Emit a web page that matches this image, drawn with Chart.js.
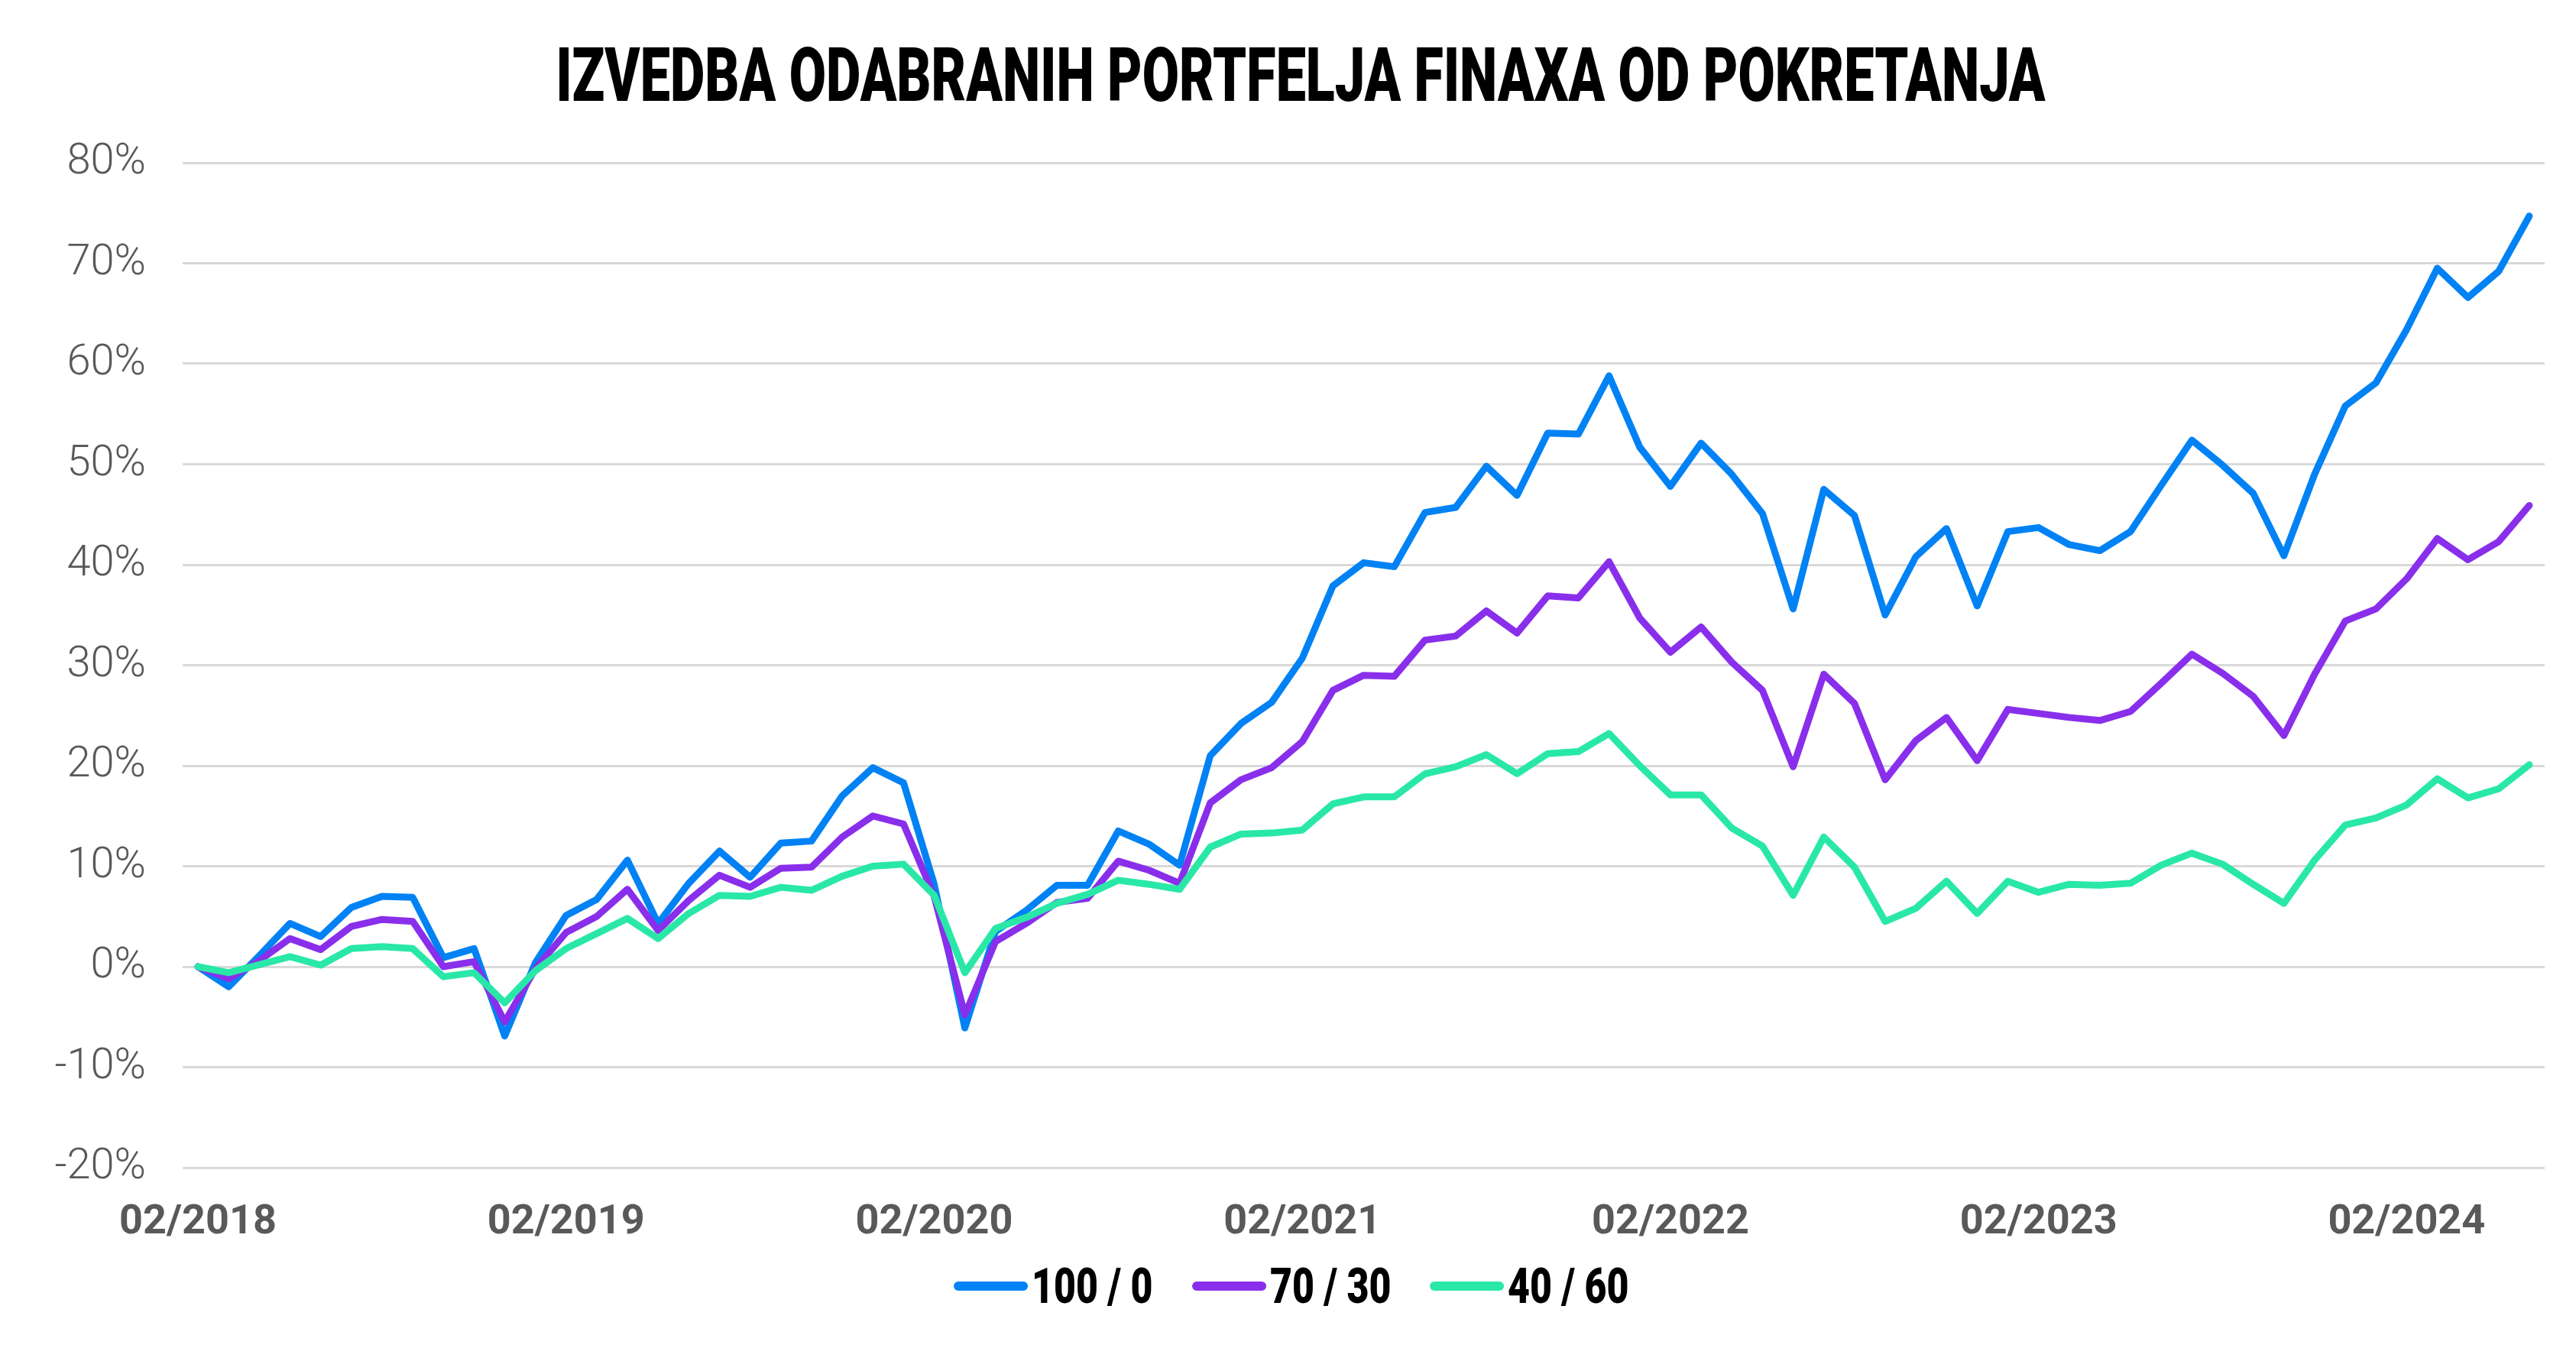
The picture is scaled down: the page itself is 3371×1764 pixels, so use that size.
<!DOCTYPE html>
<html>
<head>
<meta charset="utf-8">
<title>Izvedba odabranih portfelja Finaxa</title>
<script src="https://cdn.jsdelivr.net/npm/chart.js@4.4.1/dist/chart.umd.min.js"></script>
<style>
  html, body { margin: 0; padding: 0; background: #fff; overflow: hidden; }
  #wrap { width: 3371px; height: 1764px; position: relative; }
  #chartTitle {
    position: absolute; left: 1702px; top: 50px;
    font-family: Roboto, sans-serif; font-weight: 900; font-size: 98px; line-height: 98px;
    color: #000; white-space: nowrap;
  }
  #chartLegend {
    position: absolute; left: 1690px; top: 1643px; height: 80px;
    display: flex; align-items: center; gap: 51px; transform: translateX(-50%);
    white-space: nowrap;
  }
  .legend-item { display: flex; align-items: center; }
  .legend-swatch { width: 97px; height: 12px; border-radius: 6px; margin-right: 5px; }
  .legend-text {
    display: inline-block; transform-origin: left center;
    font-family: Roboto, sans-serif; font-weight: 900; font-size: 65px; line-height: 80px; color: #000;
  }
</style>
</head>
<body>
<div id="wrap">
  <canvas id="finaxaChart"></canvas>
  <div id="chartTitle">IZVEDBA ODABRANIH PORTFELJA FINAXA OD POKRETANJA</div>
  <div id="chartLegend"></div>
</div>
<script>
// monthly points, 02/2018 - 06/2024
const startYear = 2018;
const startMonth = 2;
const monthCount = 77;
const tickLabels = ['02/2018', '02/2019', '02/2020', '02/2021', '02/2022', '02/2023', '02/2024'];
const seriesNames = ['100 / 0', '70 / 30', '40 / 60'];

const portfolio100 = [
  0.0, -2.0, 1.1, 4.3, 3.0, 5.9, 7.0, 6.9, 0.9, 1.8, -6.9, 0.4,
  5.1, 6.7, 10.6, 4.3, 8.3, 11.5, 8.9, 12.3, 12.5, 17.0, 19.8, 18.3,
  8.2, -6.1, 3.5, 5.6, 8.1, 8.1, 13.5, 12.2, 10.1, 21.0, 24.2, 26.3,
  30.7, 37.9, 40.2, 39.8, 45.2, 45.7, 49.8, 46.9, 53.1, 53.0, 58.8, 51.7,
  47.8, 52.1, 49.0, 45.1, 35.6, 47.5, 44.9, 35.0, 40.8, 43.6, 35.9, 43.3,
  43.7, 42.0, 41.4, 43.3, 47.9, 52.4, 49.9, 47.1, 40.9, 49.0, 55.8, 58.1,
  63.4, 69.5, 66.6, 69.2, 74.7
];
const portfolio70 = [
  0.0, -1.2, 0.6, 2.8, 1.7, 4.0, 4.7, 4.5, 0.0, 0.5, -5.5, -0.2,
  3.4, 5.0, 7.7, 3.6, 6.6, 9.1, 7.9, 9.8, 9.9, 12.9, 15.0, 14.2,
  7.0, -4.8, 2.5, 4.3, 6.4, 6.8, 10.5, 9.6, 8.3, 16.3, 18.6, 19.8,
  22.4, 27.5, 29.0, 28.9, 32.5, 32.9, 35.4, 33.2, 36.9, 36.7, 40.3, 34.7,
  31.3, 33.8, 30.3, 27.5, 19.9, 29.1, 26.2, 18.6, 22.5, 24.8, 20.5, 25.6,
  25.2, 24.8, 24.5, 25.4, 28.2, 31.1, 29.2, 26.9, 23.0, 29.1, 34.4, 35.6,
  38.6, 42.6, 40.5, 42.3, 45.9
];
const portfolio40 = [
  0.0, -0.6, 0.2, 1.0, 0.15, 1.8, 2.0, 1.8, -1.0, -0.6, -3.6, -0.4,
  1.8, 3.3, 4.8, 2.8, 5.3, 7.1, 7.0, 7.9, 7.6, 9.0, 10.0, 10.2,
  7.1, -0.6, 3.8, 4.9, 6.3, 7.2, 8.6, 8.2, 7.7, 11.9, 13.2, 13.3,
  13.6, 16.2, 16.9, 16.9, 19.2, 19.9, 21.1, 19.2, 21.2, 21.4, 23.2, 20.0,
  17.1, 17.1, 13.8, 12.0, 7.1, 12.9, 9.9, 4.5, 5.8, 8.5, 5.3, 8.5,
  7.4, 8.2, 8.1, 8.3, 10.1, 11.3, 10.2, 8.2, 6.3, 10.6, 14.1, 14.8,
  16.1, 18.7, 16.8, 17.7, 20.1
];

const months = [];
for (let i = 0; i < monthCount; i++) {
  const m = (startMonth - 1 + i) % 12 + 1;
  const y = startYear + Math.floor((startMonth - 1 + i) / 12);
  months.push((m < 10 ? '0' + m : '' + m) + '/' + y);
}

function lineSet(label, values, color, order) {
  return {
    label: label,
    data: values,
    borderColor: color,
    backgroundColor: color,
    borderWidth: 9,
    borderJoinStyle: 'round',
    borderCapStyle: 'round',
    pointRadius: 0,
    pointHoverRadius: 0,
    tension: 0,
    order: order
  };
}

const ctx = document.getElementById('finaxaChart').getContext('2d');
const myChart = new Chart(ctx, {
  type: 'line',
  data: {
    labels: months,
    datasets: [
      lineSet(seriesNames[0], portfolio100, '#0082F4', 3),
      lineSet(seriesNames[1], portfolio70, '#892FEB', 2),
      lineSet(seriesNames[2], portfolio40, '#29E8A7', 1)
    ]
  },
  options: {
    responsive: true,
    maintainAspectRatio: false,
    devicePixelRatio: 1,
    animation: false,
    layout: { padding: { left: 70, right: 41, top: 213, bottom: 131 } },
    plugins: {
      title: { display: false },
      legend: { display: false },
      tooltip: { enabled: false }
    },
    scales: {
      x: {
        type: 'category',
        offset: true,
        grid: { display: false, drawTicks: false },
        border: { display: false },
        afterFit: (scale) => { scale.height = 105; },
        ticks: {
          autoSkip: false,
          maxRotation: 0,
          padding: 40,
          color: '#595959',
          font: { family: 'Roboto', size: 54, weight: 'bold' },
          callback: function (value) {
            const label = this.getLabelForValue(value);
            return tickLabels.includes(label) ? label : '';
          }
        }
      },
      y: {
        min: -20,
        max: 80,
        grid: { color: '#d9d9d9', lineWidth: 3, drawTicks: false },
        border: { display: false },
        afterFit: (scale) => { scale.width = 169; },
        ticks: {
          stepSize: 10,
          padding: 48,
          color: '#595959',
          font: { family: 'Roboto', size: 56, weight: '300' },
          callback: (v) => v + '%'
        }
      }
    }
  }
});

// condensed look for title: squeeze to the reference width
const titleEl = document.getElementById('chartTitle');
const titleScale = 1948 / titleEl.offsetWidth;
titleEl.style.transform = 'translateX(-50%) scaleX(' + titleScale.toFixed(3) + ')';

// legend built from the chart's datasets
const legendEl = document.getElementById('chartLegend');
myChart.data.datasets.forEach(function (ds) {
  const item = document.createElement('div');
  item.className = 'legend-item';
  const sw = document.createElement('span');
  sw.className = 'legend-swatch';
  sw.style.background = ds.borderColor;
  const tx = document.createElement('span');
  tx.className = 'legend-text';
  tx.textContent = ds.label;
  item.appendChild(sw);
  item.appendChild(tx);
  legendEl.appendChild(item);
  const w = tx.offsetWidth;
  const s = 0.77;
  tx.style.transform = 'scaleX(' + s + ')';
  tx.style.width = (w * s) + 'px';
});
</script>
</body>
</html>
